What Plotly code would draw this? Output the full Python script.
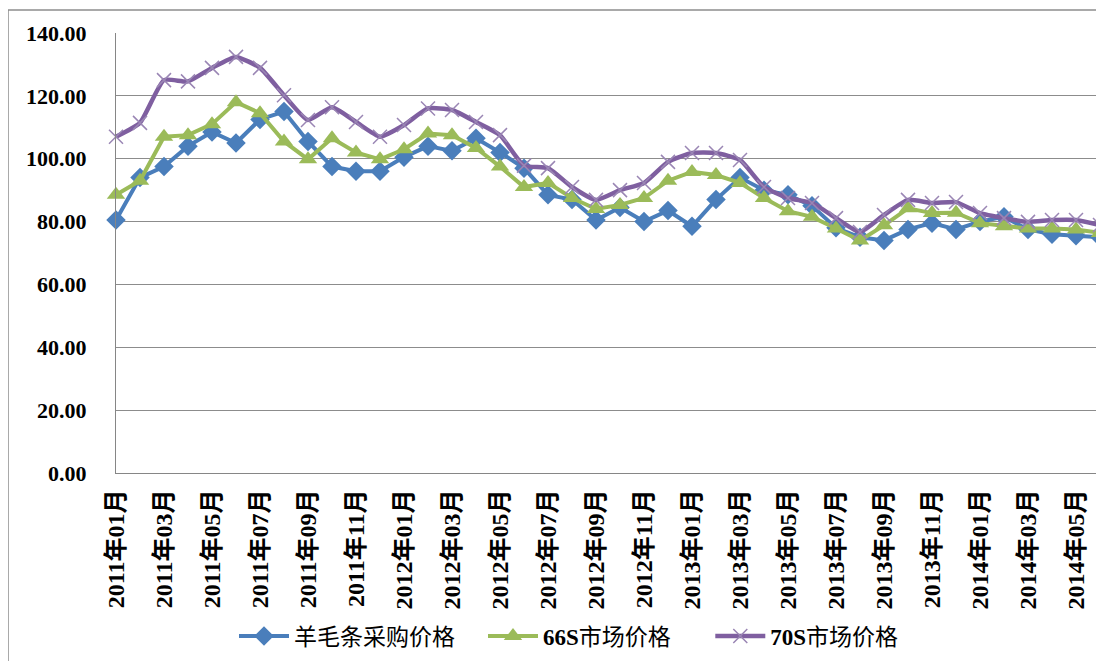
import plotly.graph_objects as go

months = [f"{y}年{m:02d}月" for y in (2011, 2012, 2013, 2014) for m in range(1, 13)][:42]

wool_top = [80.5, 94.0, 97.5, 104.0, 108.5, 105.0, 112.5, 115.0, 105.5, 97.5,
            96.0, 96.0, 100.5, 104.0, 102.5, 106.5, 102.0, 97.0, 88.5, 87.0,
            80.5, 84.5, 80.0, 83.5, 78.5, 87.0, 94.0, 90.0, 88.5, 85.0,
            78.0, 75.0, 74.0, 77.5, 79.5, 77.5, 80.0, 81.5, 77.5, 76.0,
            75.5, 75.0]
s66 = [88.5, 93.0, 107.0, 107.5, 111.0, 118.0, 114.5, 105.5, 99.8, 106.5,
       102.0, 99.8, 103.0, 108.0, 107.5, 103.4, 97.5, 91.0, 92.3, 87.5,
       84.0, 85.3, 87.5, 93.0, 95.8, 94.8, 92.3, 87.5, 83.3, 81.5,
       77.8, 74.0, 78.8, 84.2, 82.7, 82.8, 79.5, 78.5, 77.8, 77.8,
       77.5, 76.4]
s70 = [107.0, 111.4, 125.0, 124.6, 128.9, 132.4, 128.9, 120.2, 112.3, 116.4,
       111.7, 107.0, 110.7, 116.0, 115.5, 111.7, 107.5, 97.8, 97.0, 91.0,
       86.9, 90.0, 92.3, 99.0, 101.8, 101.8, 99.6, 91.0, 87.5, 85.9,
       81.1, 76.7, 82.1, 86.9, 85.9, 86.2, 82.7, 81.1, 79.9, 80.5,
       80.5, 78.9]

names = ["羊毛条采购价格", "<b>66S</b>市场价格", "<b>70S</b>市场价格"]
yticks = [0, 20, 40, 60, 80, 100, 120, 140]

blue = "#4A7EBB"
green = "#9BBB59"
purple = "#7F5FA0"

fig = go.Figure()
fig.add_trace(go.Scatter(
    x=months, y=wool_top, name=names[0] + "\u00a0" * 4, mode="lines+markers",
    line=dict(color=blue, width=4),
    marker=dict(symbol="diamond", size=15, color=blue),
    cliponaxis=False))
fig.add_trace(go.Scatter(
    x=months, y=s66, name=names[1] + "\u00a0" * 6, mode="lines+markers",
    line=dict(color=green, width=4),
    marker=dict(symbol="triangle-up", size=16, color=green),
    cliponaxis=False))
fig.add_trace(go.Scatter(
    x=months, y=s70, name=names[2], mode="lines+markers",
    line=dict(color=purple, width=4.5, shape="spline", smoothing=0.5),
    marker=dict(symbol="x-thin", size=14, color="#9A86B4",
                line=dict(color="#9A86B4", width=1.5)),
    cliponaxis=False))

# page offset of 8px (body margin) in the screenshot
OFF = 8
W, H = 1104, 661
L, T, B = 116 - OFF, 33 - OFF, 473 - OFF
R = 1104 - OFF
pw = R - L
ph = B - T

def px_x(x):
    return (x - OFF - L) / pw

def px_y(y):
    return (B - (y - OFF)) / ph

fig.update_layout(
    width=W, height=H,
    margin=dict(l=L, r=W - R, t=T, b=H - B),
    paper_bgcolor="white", plot_bgcolor="white",
    font=dict(family="Liberation Serif, Noto Sans CJK SC", color="black"),
    showlegend=True,
    legend=dict(orientation="h", x=px_x(234), y=px_y(636), xanchor="left",
                yanchor="middle", itemwidth=50,
                font=dict(size=23, family="Liberation Serif, Noto Sans CJK SC"),
                tracegroupgap=0, bgcolor="rgba(0,0,0,0)"),
    xaxis=dict(
        type="category", range=[0, 41 + 4 / 24.0],
        tickmode="array", tickvals=months[::2], ticktext=months[::2],
        tickangle=-90, showgrid=False, ticks="",
        showline=True, linecolor="#868686", linewidth=1,
        tickfont=dict(size=24, family="Liberation Serif, Noto Sans CJK SC", weight="bold"),
        ticklabelstandoff=6),
    yaxis=dict(
        range=[0, 140], tickmode="array", tickvals=yticks,
        ticktext=[f"{v:.2f}" for v in yticks],
        showgrid=True, gridcolor="#8C8C8C", gridwidth=1,
        showline=True, linecolor="#868686", linewidth=1, mirror=True,
        zeroline=False, ticks="",
        tickfont=dict(size=22, family="Liberation Serif", weight="bold"),
        ticklabelstandoff=24),
    shapes=[
        dict(type="line", xref="paper", yref="paper",
             x0=px_x(8), x1=px_x(8), y0=px_y(10), y1=px_y(661),
             line=dict(color="#8C8C8C", width=1.5)),
        dict(type="line", xref="paper", yref="paper",
             x0=px_x(8), x1=1.0, y0=px_y(10), y1=px_y(10),
             line=dict(color="#8C8C8C", width=1.5)),
    ],
)

fig.write_html("out.html")
